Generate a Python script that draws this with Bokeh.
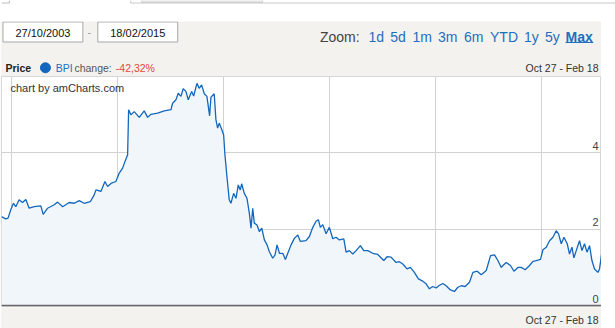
from datetime import datetime
from bokeh.plotting import figure
from bokeh.layouts import column
from bokeh.models import Range1d, FixedTicker, Span, Grid
from bokeh.embed import file_html
from bokeh.resources import INLINE
from bokeh.core.properties import value

# ---------------- data ----------------
years = [
    2003.819, 2003.900, 2003.943, 2003.994, 2004.045, 2004.089, 2004.151, 2004.215,
    2004.277, 2004.340, 2004.434, 2004.560, 2004.604, 2004.687, 2004.811, 2004.875,
    2004.970, 2005.094, 2005.189, 2005.283, 2005.377, 2005.491, 2005.566, 2005.598,
    2005.692, 2005.768, 2005.819, 2005.881, 2005.975, 2006.038, 2006.102, 2006.145,
    2006.196, 2006.215, 2006.258, 2006.321, 2006.415, 2006.509, 2006.574, 2006.636,
    2006.762, 2006.887, 2007.013, 2007.045, 2007.108, 2007.151, 2007.202, 2007.245,
    2007.296, 2007.340, 2007.404, 2007.442, 2007.504, 2007.547, 2007.592, 2007.642,
    2007.692, 2007.743, 2007.768, 2007.830, 2007.862, 2007.894, 2007.925, 2007.970,
    2008.008, 2008.032, 2008.070, 2008.113, 2008.145, 2008.196, 2008.240, 2008.283,
    2008.321, 2008.347, 2008.396, 2008.447, 2008.491, 2008.523, 2008.555, 2008.585,
    2008.636, 2008.679, 2008.725, 2008.774, 2008.825, 2008.868, 2008.932, 2008.975,
    2009.013, 2009.057, 2009.121, 2009.170, 2009.226, 2009.277, 2009.340, 2009.404,
    2009.453, 2009.560, 2009.623, 2009.687, 2009.749, 2009.792, 2009.830, 2009.875,
    2009.938, 2010.000, 2010.064, 2010.126, 2010.189, 2010.272, 2010.315, 2010.377,
    2010.442, 2010.504, 2010.585, 2010.649, 2010.725, 2010.819, 2010.913, 2011.026,
    2011.089, 2011.164, 2011.259, 2011.321, 2011.385, 2011.466, 2011.528, 2011.604,
    2011.679, 2011.762, 2011.825, 2011.887, 2011.951, 2012.013, 2012.064, 2012.140,
    2012.202, 2012.283, 2012.358, 2012.423, 2012.485, 2012.560, 2012.642, 2012.706,
    2012.787, 2012.862, 2012.957, 2013.038, 2013.113, 2013.177, 2013.240, 2013.272,
    2013.334, 2013.415, 2013.479, 2013.555, 2013.617, 2013.692, 2013.774, 2013.838,
    2013.900, 2013.981, 2014.026, 2014.089, 2014.151, 2014.215, 2014.277, 2014.321,
    2014.372, 2014.423, 2014.485, 2014.528, 2014.574, 2014.611, 2014.655, 2014.717,
    2014.762, 2014.811, 2014.857, 2014.906, 2014.951, 2015.000, 2015.064, 2015.094,
    2015.134,
]
prices = [
    2.33, 2.27, 2.29, 2.51, 2.68, 2.59, 2.77, 2.70,
    2.78, 2.55, 2.59, 2.61, 2.39, 2.55, 2.64, 2.71,
    2.59, 2.70, 2.68, 2.75, 2.68, 2.72, 2.90, 3.03,
    2.99, 3.25, 3.12, 3.20, 3.25, 3.47, 3.60, 3.77,
    3.95, 5.13, 5.00, 5.08, 4.93, 5.10, 4.93, 5.01,
    5.04, 5.10, 5.13, 5.30, 5.39, 5.56, 5.48, 5.68,
    5.61, 5.39, 5.61, 5.49, 5.82, 5.69, 5.78, 5.55,
    5.48, 4.97, 5.46, 5.55, 4.87, 4.65, 4.78, 4.62,
    4.47, 3.95, 3.38, 2.77, 2.68, 2.94, 2.81, 3.16,
    3.03, 3.19, 2.94, 2.81, 2.42, 2.03, 2.55, 2.16,
    2.11, 1.94, 2.03, 1.72, 1.59, 1.41, 1.24, 1.33,
    1.59, 1.37, 1.37, 1.21, 1.41, 1.59, 1.76, 1.85,
    1.68, 1.70, 1.81, 2.05, 2.21, 2.25, 2.05, 2.12,
    1.88, 2.05, 1.75, 1.79, 1.72, 1.75, 1.40, 1.44,
    1.35, 1.44, 1.57, 1.44, 1.44, 1.37, 1.34, 1.18,
    1.28, 1.27, 1.13, 1.15, 1.09, 0.96, 1.00, 0.87,
    0.70, 0.64, 0.57, 0.44, 0.50, 0.46, 0.52, 0.58,
    0.52, 0.41, 0.37, 0.48, 0.52, 0.50, 0.61, 0.87,
    0.90, 0.81, 0.92, 1.31, 1.33, 1.18, 1.00, 1.05,
    1.13, 1.05, 0.90, 1.00, 1.00, 0.94, 1.05, 1.16,
    1.18, 1.21, 1.46, 1.53, 1.70, 1.79, 1.96, 1.88,
    1.62, 1.79, 1.62, 1.35, 1.53, 1.25, 1.44, 1.70,
    1.44, 1.62, 1.40, 1.57, 1.18, 0.96, 0.87, 0.96,
    1.35,
]
y_ticks = [0, 2, 4]
grid_years = [2004, 2006, 2008, 2010, 2012, 2014]
date_from = "27/10/2003"
date_to = "18/02/2015"
zoom_links = ["1d", "5d", "1m", "3m", "6m", "YTD", "1y", "5y"]
period_label = "Oct 27 - Feb 18"
series_name = "BPI"
change_text = "-42,32%"

# ---------------- style ----------------
GRAY = "#f3f2ef"
BLUE = "#1267bd"
LINK = "#1f6fbf"
FILL = "#f1f6fb"
FONT = value("Liberation Sans")


def to_dt(t):
    y = int(t)
    a, b = datetime(y, 1, 1), datetime(y + 1, 1, 1)
    return a + (b - a) * (t - y)


dates = [to_dt(t) for t in years]
START, END = datetime(2003, 10, 27), datetime(2015, 2, 18)
W = 601


def deco_fig(w, h, x0, x1, ytop, ybot, bg):
    f = figure(width=w, height=h, x_range=Range1d(x0, x1), y_range=Range1d(ybot, ytop),
               x_axis_location=None, y_axis_location=None, toolbar_location=None,
               output_backend="svg", min_border=0, min_border_left=0, min_border_right=0,
               min_border_top=0, min_border_bottom=0, outline_line_color=None,
               background_fill_color=bg, border_fill_color=bg)
    f.xgrid.visible = False
    f.ygrid.visible = False
    return f


# ---- top strip (page fragments) ----
top = deco_fig(615, 21, 0, 615, 0, 21, "white")
top.segment(x0=[0, 8], y0=[2.5, 0], x1=[8, 8], y1=[2.5, 2.5], line_color="#bdbdbd", line_width=1)
top.quad(left=[129.5], right=[615], top=[-1], bottom=[2.5], fill_color="white", line_color="#c8c8c8")
top.quad(left=[140.5], right=[261.5], top=[-1], bottom=[2], fill_color="#e4e4e4", line_color="#cfcfcf")

# ---- header ----
hdr = deco_fig(W, 55, 0, W, 21, 76, GRAY)
hdr.quad(left=[1.5, 96.5], right=[81.5, 176.5], top=[21.5, 21.5], bottom=[41.5, 41.5],
         fill_color="white", line_color="#a8a8a8", line_width=1)
hdr.text(x=[41.5, 136.5], y=[32, 32], text=[date_from, date_to], text_align="center",
         text_baseline="middle", text_font=FONT, text_font_size="11px", text_color="#111111")
hdr.text(x=[88], y=[31.5], text=["-"], text_align="center", text_baseline="middle",
         text_font=FONT, text_font_size="11px", text_color="#9a9a9a")
hdr.text(x=[319], y=[36.3], text=["Zoom:"], text_align="left", text_baseline="middle",
         text_font=FONT, text_font_size="14px", text_color="#444444")
link_x = [367.7, 389.3, 411.7, 437.3, 463.3, 489.3, 523.3, 544.3]
hdr.text(x=link_x, y=[36.3] * len(zoom_links), text=zoom_links, text_align="left",
         text_baseline="middle", text_font=FONT, text_font_size="14px", text_color=LINK)
hdr.text(x=[565], y=[36.3], text=["Max"], text_align="left", text_baseline="middle",
         text_font=FONT, text_font_size="14px", text_color=LINK, text_font_style="bold")
hdr.segment(x0=[565], y0=[42], x1=[592.7], y1=[42], line_color=LINK, line_width=1.2)
hdr.text(x=[4], y=[67.3], text=["Price"], text_align="left", text_baseline="middle",
         text_font=FONT, text_font_size="10.5px", text_color="#222222", text_font_style="bold")
hdr.scatter(x=[44], y=[67.3], size=10, fill_color=BLUE, line_color=BLUE)
hdr.text(x=[54.3], y=[67.3], text=[series_name], text_align="left", text_baseline="middle",
         text_font=FONT, text_font_size="10.5px", text_color=LINK)
hdr.text(x=[73], y=[67.3], text=["change:"], text_align="left", text_baseline="middle",
         text_font=FONT, text_font_size="10.5px", text_color="#555555")
hdr.text(x=[114.5], y=[67.3], text=[change_text], text_align="left", text_baseline="middle",
         text_font=FONT, text_font_size="10.5px", text_color="#e5483b")
hdr.text(x=[598], y=[67.3], text=[period_label], text_align="right", text_baseline="middle",
         text_font=FONT, text_font_size="10.5px", text_color="#333333")

# ---- chart ----
p = figure(width=W, height=231, x_range=Range1d(START, END), y_range=Range1d(-0.05, 6.0),
           x_axis_location=None, y_axis_location=None, toolbar_location=None,
           output_backend="svg", min_border=0, min_border_left=1, min_border_right=0,
           min_border_top=0, min_border_bottom=0, border_fill_color=GRAY,
           background_fill_color="white", outline_line_color="#d6d6d6")
p.center = [r for r in p.center if not isinstance(r, Grid)]
grid_ms = [datetime(y, 1, 1).timestamp() * 1000 for y in grid_years]
p.add_layout(Grid(dimension=0, ticker=FixedTicker(ticks=grid_ms),
                  grid_line_color="#d2d2d2", grid_line_width=1))
p.add_layout(Grid(dimension=1, ticker=FixedTicker(ticks=y_ticks + [6]),
                  grid_line_color="#d2d2d2", grid_line_width=1))
p.varea(x=dates, y1=0, y2=prices, fill_color=FILL)
p.line(x=dates, y=prices, line_color=BLUE, line_width=1.3)
p.add_layout(Span(location=0, dimension="width", line_color="#6a6a6a", line_width=1.5))
p.text(x=[END] * len(y_ticks), y=y_ticks, text=[str(v) for v in y_ticks], text_align="right",
       text_baseline="bottom", x_offset=-3, y_offset=-3, text_font=FONT,
       text_font_size="11px", text_color="#444444")
p.text(x=[START], y=[6.0], text=["chart by amCharts.com"], text_align="left",
       text_baseline="top", x_offset=9, y_offset=5.5, text_font=FONT,
       text_font_size="11px", text_color="#333333")

# ---- footer ----
ftr = deco_fig(W, 21, 0, W, 307, 328, GRAY)
ftr.text(x=[598], y=[319.5], text=[period_label], text_align="right", text_baseline="middle",
         text_font=FONT, text_font_size="10.5px", text_color="#333333")

layout = column(top, hdr, p, ftr, spacing=0)
open("out.html", "w").write(file_html(layout, INLINE))
